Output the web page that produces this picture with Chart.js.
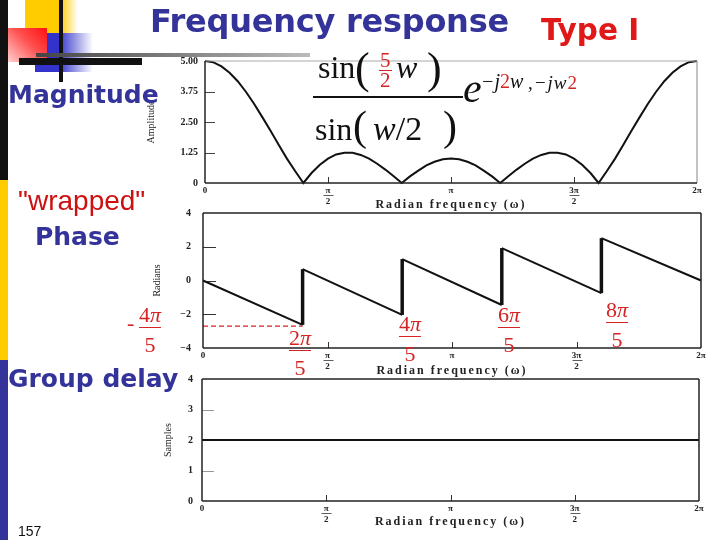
<!DOCTYPE html>
<html>
<head>
<meta charset="utf-8">
<script src="https://cdn.jsdelivr.net/npm/chart.js@4/dist/chart.umd.min.js"></script>
<style>
  body { margin: 0; width: 720px; height: 540px; position: relative; overflow: hidden; background: #fff; }
  canvas { position: absolute; left: 0; top: 0; }
  .abs { position: absolute; white-space: nowrap; line-height: 1; z-index: 5; }
  .hd { font-family: 'DejaVu Sans', sans-serif; font-weight: bold; color: #333399; }
  .tm { font-family: 'Liberation Serif', serif; color: #111; }
  .red { color: #d42424; }
  .frac { position: absolute; z-index: 5; display: flex; flex-direction: column; align-items: center;
          transform: translateX(-50%); font: 22px 'Liberation Serif', serif; line-height: 1; color: #d42424; }
  .frac .b { align-self: stretch; height: 1.3px; background: #d42424; margin: 1px 0 6px; }
  .deco { position: absolute; }
</style>
</head>
<body>
<!-- slide decoration -->
<div class="deco" style="left:0;top:0;width:8px;height:180px;background:#111"></div>
<div class="deco" style="left:0;top:180px;width:8px;height:180px;background:#ffcc00"></div>
<div class="deco" style="left:0;top:360px;width:8px;height:180px;background:#333399"></div>
<div class="deco" style="left:25px;top:0;width:53px;height:33px;background:linear-gradient(90deg,#ffcc00 0,#ffcc00 66%,#fff 100%)"></div>
<div class="deco" style="left:35px;top:33px;width:58px;height:39px;background:linear-gradient(90deg,#3333cc 0,#3333cc 40%,#fff 100%)"></div>
<div class="deco" style="left:8px;top:28px;width:39px;height:34px;background:linear-gradient(225deg,#ff1010 0,#ff5050 45%,#ffd0d0 100%)"></div>
<div class="deco" style="left:59px;top:0;width:4px;height:82px;background:#111"></div>
<div class="deco" style="left:36px;top:53px;width:274px;height:4px;background:linear-gradient(90deg,#444,#bbb)"></div>
<div class="deco" style="left:19px;top:58px;width:123px;height:7px;background:#111"></div>

<canvas id="cMag" width="720" height="540"></canvas>
<canvas id="cPhase" width="720" height="540"></canvas>
<canvas id="cDelay" width="720" height="540"></canvas>

<!-- slide text -->
<div class="abs hd" style="left:150px;top:5px;font-size:32px;letter-spacing:-0.25px">Frequency response</div>
<div class="abs hd" style="left:541px;top:16px;font-size:29.5px;color:#e01818">Type I</div>
<div class="abs hd" style="left:8px;top:82px;font-size:25px">Magnitude</div>
<div class="abs" style="left:18px;top:185px;font:28px 'Liberation Sans',sans-serif;color:#cc1111">"wrapped"</div>
<div class="abs hd" style="left:35px;top:224px;font-size:25px">Phase</div>
<div class="abs hd" style="left:8px;top:366px;font-size:25px">Group delay</div>
<div class="abs" style="left:18px;top:523px;font:14px 'Liberation Sans',sans-serif;color:#111">157</div>

<!-- equation -->
<div class="abs tm" style="left:318px;top:51px;font-size:32px">sin</div>
<div class="abs tm" style="left:355px;top:47px;font-size:44px">(</div>
<div class="abs tm red" style="left:380px;top:50px;font-size:21px">5</div>
<div class="abs" style="left:379px;top:70px;width:13px;height:1.3px;background:#d42424"></div>
<div class="abs tm red" style="left:380px;top:70px;font-size:21px">2</div>
<div class="abs tm" style="left:396px;top:51px;font-size:32px;font-style:italic">w</div>
<div class="abs tm" style="left:427px;top:47px;font-size:44px">)</div>
<div class="abs" style="left:313px;top:96px;width:150px;height:2px;background:#111"></div>
<div class="abs tm" style="left:315px;top:113px;font-size:32px">sin</div>
<div class="abs tm" style="left:353px;top:105px;font-size:42px">(</div>
<div class="abs tm" style="left:373px;top:112px;font-size:34px"><i>w</i>/2</div>
<div class="abs tm" style="left:443px;top:105px;font-size:42px">)</div>
<div class="abs tm" style="left:463px;top:67px;font-size:42px;font-style:italic">e</div>
<div class="abs tm" style="left:481px;top:71px;font-size:20px"><i>−j</i><span class="red">2</span><i>w</i></div>
<div class="abs tm" style="left:528px;top:73px;font-size:19px;letter-spacing:1px">,<i>−jw</i><span class="red">2</span></div>

<!-- red fraction annotations -->
<div class="frac" style="left:150px;top:304px"><span>4<i>π</i></span><div class="b"></div><span>5</span></div>
<div class="abs tm red" style="left:127px;top:312px;font-size:22px">-</div>
<div class="frac" style="left:300px;top:327px"><span>2<i>π</i></span><div class="b"></div><span>5</span></div>
<div class="frac" style="left:410px;top:313px"><span>4<i>π</i></span><div class="b"></div><span>5</span></div>
<div class="frac" style="left:509px;top:304px"><span>6<i>π</i></span><div class="b"></div><span>5</span></div>
<div class="frac" style="left:617px;top:299px"><span>8<i>π</i></span><div class="b"></div><span>5</span></div>

<script>
// frequency axis in units of pi (0 .. 2)
const freqPi = [0, 0.033, 0.067, 0.1, 0.133, 0.167, 0.2, 0.233, 0.267, 0.3,
  0.333, 0.367, 0.4, 0.433, 0.467, 0.5, 0.533, 0.567, 0.6, 0.633,
  0.667, 0.7, 0.733, 0.767, 0.8, 0.833, 0.867, 0.9, 0.933, 0.967,
  1, 1.033, 1.067, 1.1, 1.133, 1.167, 1.2, 1.233, 1.267, 1.3,
  1.333, 1.367, 1.4, 1.433, 1.467, 1.5, 1.533, 1.567, 1.6, 1.633,
  1.667, 1.7, 1.733, 1.767, 1.8, 1.833, 1.867, 1.9, 1.933, 1.967, 2];
const magnitude = [5.00, 4.95, 4.78, 4.52, 4.17, 3.73, 3.24, 2.70, 2.13, 1.56,
  1.00, 0.48, 0, 0.41, 0.75, 1.00, 1.17, 1.24, 1.24, 1.15,
  1.00, 0.79, 0.55, 0.28, 0, 0.27, 0.51, 0.72, 0.87, 0.97,
  1.00, 0.97, 0.87, 0.72, 0.51, 0.27, 0, 0.28, 0.55, 0.79,
  1.00, 1.15, 1.24, 1.24, 1.17, 1.00, 0.75, 0.41, 0, 0.48,
  1.00, 1.56, 2.13, 2.70, 3.24, 3.73, 4.17, 4.52, 4.78, 4.95, 5.00];

const phaseFreqPi = [0, 0.4, 0.4, 0.8, 0.8, 1.2, 1.2, 1.6, 1.6, 2];
const phaseRad    = [0, -2.63, 0.67, -2.04, 1.27, -1.45, 1.92, -0.75, 2.51, 0];
const dashFreqPi  = [0, 0.4];
const dashRad     = [-2.7, -2.7];

const delayFreqPi = [0, 2];
const delaySamples = [2, 2];

const xTickVals   = [0, 0.5, 1, 1.5, 2];
const xTickLabels = ['0', ['π', '2'], 'π', ['3π', '2'], '2π'];
const magTickVals   = [0, 1.25, 2.5, 3.75, 5];
const magTickLabels = ['0', '1.25', '2.50', '3.75', '5.00'];
const phTickVals    = [-4, -2, 0, 2, 4];
const phTickLabels  = ['−4', '−2', '0', '2', '4'];
const gdTickVals    = [0, 1, 2, 3, 4];
const gdTickLabels  = ['0', '1', '2', '3', '4'];

Chart.defaults.font.family = "'Liberation Serif', serif";
Chart.defaults.color = '#222';

const pts = (xs, ys) => xs.map((x, i) => ({ x, y: ys[i] }));

const seg = (ctx, x1, y1, x2, y2, c, w) => {
  ctx.strokeStyle = c; ctx.lineWidth = w;
  ctx.beginPath(); ctx.moveTo(x1, y1); ctx.lineTo(x2, y2); ctx.stroke();
};

// inward tick marks under the curves, frame on top, spaced-out x title
const framePlugin = {
  id: 'frame',
  afterLayout(chart) {
    const sx = chart.scales.x;
    if (sx._spaced) return;
    const orig = sx.drawTitle;
    sx.drawTitle = function () {
      const ctx = this.ctx;
      ctx.save(); ctx.letterSpacing = '2px';
      orig.apply(this, arguments);
      ctx.restore();
    };
    sx._spaced = true;
  },
  beforeDatasetsDraw(chart, args, o) {
    const { ctx, chartArea: a, scales: { x, y } } = chart;
    ctx.save();
    y.ticks.forEach(t => {
      if (t.value === y.min || t.value === y.max) return;
      const py = Math.round(y.getPixelForValue(t.value)) + 0.5;
      seg(ctx, a.left, py, a.left + o.tickLen, py, o.tickColor, 1);
    });
    x.ticks.forEach((t, i) => {
      const px = Math.round(x.getPixelForValue(t.value)) + 0.5;
      if (t.value !== x.min && t.value !== x.max) seg(ctx, px, a.bottom, px, a.bottom - 6, '#333', 1);
      if (Array.isArray(xTickLabels[i])) {
        const by = a.bottom + 2 + 10.5;
        seg(ctx, px - 5, by, px + 5, by, '#333', 0.8);
      }
    });
    ctx.restore();
  },
  afterDraw(chart, args, o) {
    const { ctx, chartArea: a } = chart;
    ctx.save();
    seg(ctx, a.left, a.top, a.right, a.top, o.top, o.topW);
    seg(ctx, a.right, a.top, a.right, a.bottom, o.right, o.rightW);
    seg(ctx, a.left, a.bottom, a.right, a.bottom, '#222', 1.5);
    seg(ctx, a.left, a.top, a.left, a.bottom, '#222', 1.5);
    ctx.restore();
  }
};

function makeChart(id, box, datasets, yMin, yMax, yVals, yLabels, yTitle, yTitlePad, yPad, xTitlePad, frame) {
  return new Chart(document.getElementById(id), {
    type: 'line',
    data: { datasets },
    options: {
      responsive: false, animation: false,
      layout: { padding: { left: box.l - 60, right: 720 - box.r, top: box.t, bottom: 540 - box.b - 30 } },
      elements: { point: { radius: 0 }, line: { tension: 0 } },
      plugins: { legend: { display: false }, tooltip: { enabled: false }, frame },
      scales: {
        x: {
          type: 'linear', min: 0, max: 2,
          afterFit: s => { s.height = 30; },
          afterBuildTicks: s => { s.ticks = xTickVals.map(v => ({ value: v })); },
          grid: { display: false, drawTicks: false }, border: { display: false },
          ticks: { padding: 2, autoSkip: false, maxRotation: 0, color: '#222',
                   font: { size: 9, weight: 'bold' }, callback: (v, i) => xTickLabels[i] },
          title: { display: true, text: 'Radian frequency (ω)', color: '#222',
                   font: { size: 12, weight: 'bold' }, padding: { top: 0, bottom: xTitlePad } }
        },
        y: {
          min: yMin, max: yMax,
          afterFit: s => { s.width = 60; },
          afterBuildTicks: s => { s.ticks = yVals.map(v => ({ value: v })); },
          grid: { display: false, drawTicks: false }, border: { display: false },
          ticks: { padding: yPad, color: '#222', font: { size: 10, weight: 'bold' },
                   callback: (v, i) => yLabels[i] },
          title: { display: true, text: yTitle, color: '#222', font: { size: 10 },
                   padding: { top: yTitlePad, bottom: 0 } }
        }
      }
    },
    plugins: [framePlugin]
  });
}

makeChart('cMag', { l: 205, r: 697, t: 61, b: 183 },
  [{ data: pts(freqPi, magnitude), borderColor: '#111', borderWidth: 2, clip: 4 }],
  0, 5, magTickVals, magTickLabels, 'Amplitude', 0, 7, 1,
  { tickLen: 10, tickColor: '#444', top: '#aaa', topW: 1, right: '#888', rightW: 1 });

makeChart('cPhase', { l: 203, r: 701, t: 213, b: 348 },
  [{ data: pts(phaseFreqPi, phaseRad), borderColor: '#111', borderWidth: 2, clip: 4,
     segment: { borderWidth: c => c.p0.parsed.x === c.p1.parsed.x ? 3.5 : 2 } },
   { data: pts(dashFreqPi, dashRad), borderColor: '#d42424', borderWidth: 1.2, borderDash: [5, 3] }],
  -4, 4, phTickVals, phTickLabels, 'Radians', 8, 12, 0,
  { tickLen: 13, tickColor: '#333', top: '#222', topW: 1.5, right: '#222', rightW: 1.5 });

makeChart('cDelay', { l: 202, r: 699, t: 379, b: 501 },
  [{ data: pts(delayFreqPi, delaySamples), borderColor: '#111', borderWidth: 2.2 }],
  0, 4, gdTickVals, gdTickLabels, 'Samples', 20, 9, 2,
  { tickLen: 12, tickColor: '#999', top: '#222', topW: 1.5, right: '#222', rightW: 1.5 });
</script>
</body>
</html>
